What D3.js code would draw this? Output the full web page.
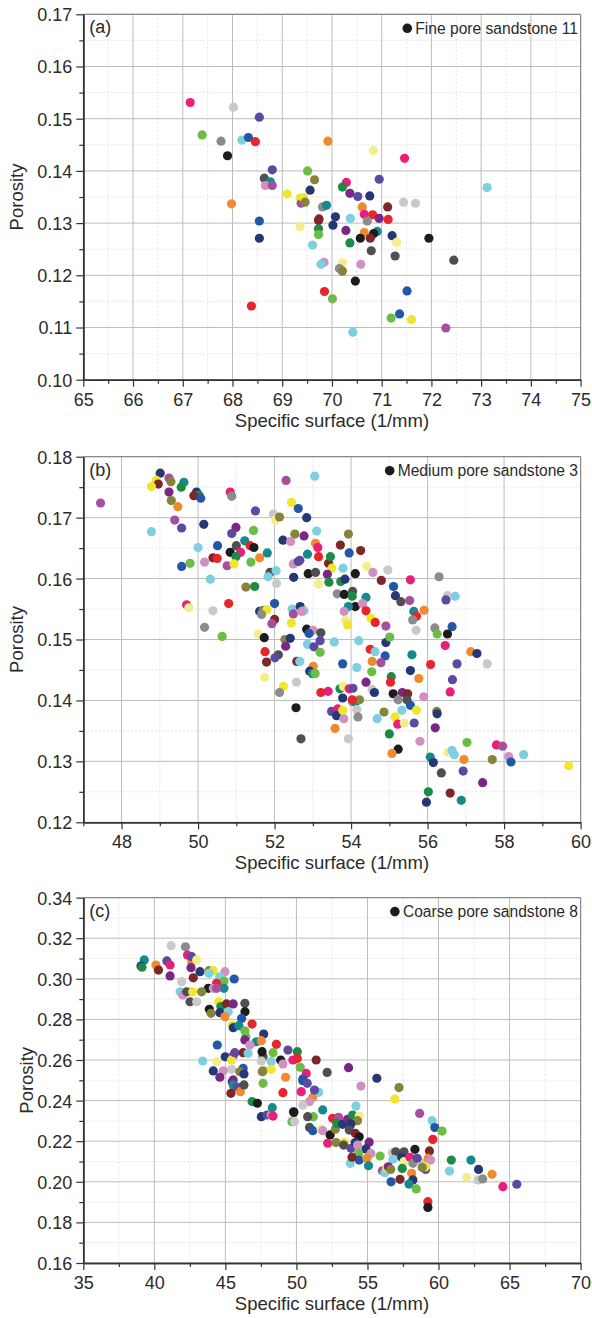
<!DOCTYPE html>
<html><head><meta charset="utf-8">
<script src="https://cdn.jsdelivr.net/npm/d3@7"></script>
<style>
body{margin:0;background:#fff}
text{font-family:"Liberation Sans",Arial,sans-serif;fill:#2b2b2b}
</style>
</head><body>
<svg id="chart" width="592" height="1318"></svg>
<script>
// colour palette used by the points (index referenced in data)
const palette = ["#e8207a","#c9c9c9","#5b4a9f","#6cbd45","#8c8c8c","#7ed0e0","#2356a6","#e6262b","#1c1c1c","#f08a2e","#4f4f4f","#16898c","#d190c2","#a4509f","#f0e62e","#f2ee8c","#85843a","#1e8b45","#253876","#7e2628","#7a2684"];

// Panel (a): Fine pore sandstone 11  [specific surface, porosity, colour]
const fineSandstone = [
[67.15,0.1531,0],[68.02,0.1522,1],[68.54,0.1503,2],[67.39,0.1469,3],[67.77,0.1457,4],[68.19,0.1459,5],[68.32,0.1464,6],[68.46,0.1456,7],[67.90,0.1429,8],[68.80,0.1402,2],[68.64,0.1386,10],[68.76,0.1379,11],[68.66,0.1372,12],[68.80,0.1372,13],[69.10,0.1356,14],[67.98,0.1337,9],[69.36,0.1348,14],[69.38,0.1338,13],
[69.92,0.1457,9],[70.83,0.1439,15],[71.46,0.1424,0],[69.51,0.1400,3],[69.65,0.1383,16],[69.56,0.1363,18],[69.42,0.1349,14],[69.46,0.1340,16],[70.29,0.1378,0],[70.21,0.1369,17],[70.36,0.1357,20],[70.52,0.1351,2],[70.76,0.1352,18],[70.95,0.1384,2],[73.12,0.1368,5],[71.44,0.1340,1],[71.68,0.1338,1],[69.81,0.1331,4],[69.89,0.1334,11],[71.12,0.1331,19],[69.74,0.1308,19],[70.07,0.1312,18],[70.37,0.1309,5],[70.61,0.1331,9],[70.65,0.1317,0],[70.82,0.1316,7],[70.95,0.1309,20],[71.13,0.1307,7],
[68.54,0.1304,6],[68.54,0.1271,18],[69.36,0.1293,15],[69.73,0.1305,19],[69.73,0.1289,17],[69.73,0.1278,3],[70.02,0.1296,18],[70.28,0.1286,20],[70.36,0.1262,17],[70.71,0.1304,4],[70.65,0.1282,9],[70.91,0.1284,11],[70.84,0.1280,8],[70.57,0.1271,8],[70.77,0.1271,19],[71.21,0.1276,18],[71.30,0.1263,15],[71.95,0.1271,8],[69.61,0.1258,5],[70.79,0.1247,10],[71.27,0.1237,10],[72.45,0.1229,10],[69.84,0.1225,12],[69.78,0.1221,5],[70.21,0.1224,15],[70.58,0.1221,12],[70.15,0.1213,4],[70.21,0.1208,16],[70.47,0.1189,8],[69.85,0.1169,7],[70.01,0.1155,3],[71.51,0.1170,6],[68.38,0.1141,7],[71.36,0.1126,6],[71.19,0.1118,3],[71.60,0.1115,14],[72.29,0.1099,13],[70.42,0.1091,5]
];

// Panel (b): Medium pore sandstone 3
const mediumSandstone = [
[47.45,0.1724,13],[49.01,0.1773,18],[49.24,0.1765,13],[48.91,0.1761,14],[48.96,0.1755,19],[48.78,0.1751,14],[49.29,0.1759,16],[49.63,0.1758,11],[49.56,0.1750,17],[49.24,0.1742,20],[49.30,0.1728,16],[49.47,0.1718,9],[49.96,0.1742,18],[50.02,0.1737,17],[49.89,0.1736,19],[50.07,0.1732,6],[50.84,0.1742,0],[50.88,0.1735,4],[52.30,0.1761,13],[51.50,0.1711,2],[52.44,0.1725,14],[52.62,0.1715,6],[48.78,0.1677,5],[49.39,0.1696,13],[49.57,0.1683,2],[50.15,0.1689,18],[51.97,0.1706,1],[52.03,0.1696,15],[52.13,0.1701,16],[52.22,0.1663,18],[52.53,0.1673,16],[52.42,0.1661,12],[50.99,0.1684,20],[50.88,0.1674,2],
[51.45,0.1679,3],[51.22,0.1662,11],[50.00,0.1651,5],[50.51,0.1654,6],[51.00,0.1654,10],[50.84,0.1643,8],[51.36,0.1654,7],[51.46,0.1651,8],[51.11,0.1643,0],[50.99,0.1636,17],[51.61,0.1634,9],[51.81,0.1642,11],[50.39,0.1634,19],[50.50,0.1633,7],[49.57,0.1620,6],[49.79,0.1625,3],[50.17,0.1627,12],[50.76,0.1621,13],[50.94,0.1624,14],[51.38,0.1627,3],[50.32,0.1599,5],[51.88,0.1610,10],[52.04,0.1613,5],[51.83,0.1603,5],[52.05,0.1592,1],[52.50,0.1602,18],[52.49,0.1624,12],[52.62,0.1628,2],[51.25,0.1586,16],[51.48,0.1587,17],[49.70,0.1557,0],[49.76,0.1552,15],[50.39,0.1547,1],[50.80,0.1559,7],[52.00,0.1559,6],[51.61,0.1546,18],[51.70,0.1548,16],[51.80,0.1549,14],[51.66,0.1541,4],[52.46,0.1550,5],[52.49,0.1542,13],[52.00,0.1533,19],[51.93,0.1526,13],[52.44,0.1527,14],[50.17,0.1520,4],
[53.05,0.1768,5],[52.84,0.1700,18],[52.77,0.1670,20],[53.10,0.1678,5],[53.07,0.1658,9],[53.13,0.1651,0],[52.86,0.1640,11],[53.15,0.1636,7],[52.66,0.1630,2],[53.41,0.1625,19],[53.50,0.1617,14],[53.46,0.1636,17],[53.72,0.1655,19],[53.93,0.1673,16],[53.95,0.1642,6],[54.25,0.1646,19],[53.79,0.1617,5],[52.88,0.1608,8],[53.07,0.1610,10],[53.38,0.1607,20],[53.15,0.1591,15],[53.42,0.1594,17],[53.73,0.1595,17],[53.84,0.1599,18],[54.11,0.1608,8],[54.41,0.1620,15],[54.57,0.1610,12],[54.96,0.1614,1],[54.79,0.1597,19],[55.55,0.1598,0],[56.30,0.1603,4],[55.11,0.1587,6],[55.16,0.1572,18],[55.30,0.1562,10],[55.53,0.1564,13],[56.52,0.1572,1],[56.48,0.1565,2],[56.72,0.1571,5],[53.64,0.1575,4],[53.82,0.1574,8],[54.04,0.1579,10],[54.03,0.1571,17],[54.39,0.1569,11],[54.11,0.1554,8],[53.93,0.1554,11],[54.30,0.1559,12],[53.82,0.1546,12],[54.39,0.1547,7],[54.52,0.1535,14],[54.63,0.1528,7],[54.91,0.1522,13],[53.86,0.1532,15],[53.91,0.1524,14],[55.64,0.1546,11],[55.71,0.1538,7],[55.91,0.1548,9],[55.61,0.1532,4],[52.67,0.1554,18],[52.77,0.1547,5],[52.71,0.1546,12],[55.70,0.1515,1],[56.19,0.1519,4],[56.64,0.1521,6],
[50.63,0.1505,3],[51.57,0.1509,15],[51.73,0.1503,8],[52.27,0.1500,16],[52.41,0.1502,18],[51.75,0.1480,7],[52.29,0.1489,20],[52.10,0.1475,10],[52.01,0.1470,2],[51.79,0.1463,19],[52.58,0.1464,19],[52.66,0.1464,5],[51.74,0.1438,15],[52.23,0.1423,14],[52.13,0.1413,4],[52.57,0.1430,1],[52.56,0.1388,8],[52.69,0.1337,10],
[52.84,0.1517,8],[53.01,0.1515,12],[53.21,0.1511,10],[56.25,0.1509,3],[56.52,0.1509,8],[52.90,0.1510,6],[52.86,0.1492,5],[53.03,0.1488,2],[53.19,0.1498,2],[53.19,0.1479,3],[53.56,0.1496,5],[54.20,0.1498,5],[54.50,0.1484,7],[54.63,0.1480,5],[54.91,0.1495,18],[55.01,0.1504,3],[54.89,0.1473,6],[56.46,0.1490,0],[57.13,0.1480,9],[57.29,0.1477,18],[57.56,0.1460,1],[55.59,0.1475,11],[56.08,0.1459,7],[56.77,0.1460,2],[53.01,0.1456,9],[52.92,0.1448,18],[52.99,0.1444,11],[53.06,0.1444,3],[53.78,0.1460,6],[54.15,0.1454,5],[54.55,0.1464,9],[54.78,0.1462,13],[54.54,0.1447,3],[55.55,0.1449,18],[55.77,0.1436,9],[56.65,0.1434,2],[55.05,0.1439,17],[55.03,0.1430,7],[54.39,0.1430,20],[53.21,0.1413,7],[53.40,0.1415,0],[53.71,0.1419,17],[53.80,0.1423,15],[53.95,0.1419,0],[54.05,0.1420,2],[53.78,0.1404,18],[54.55,0.1418,1],[54.61,0.1413,18],[55.10,0.1411,8],[55.34,0.1413,20],[55.48,0.1411,19],[55.46,0.1401,10],[55.23,0.1401,4],[55.55,0.1392,6],[56.59,0.1414,0],[55.90,0.1406,12],[54.04,0.1398,4],[54.11,0.1397,11],[54.22,0.1401,16],[54.03,0.1401,7],[54.15,0.1385,1],[54.18,0.1373,4],[53.49,0.1382,2],[53.65,0.1386,0],[53.62,0.1375,18],[53.81,0.1370,12],[53.78,0.1384,14],[54.68,0.1370,5],[54.86,0.1381,16],[55.15,0.1373,14],[55.22,0.1361,0],[55.39,0.1363,15],[55.65,0.1363,2],[55.33,0.1384,5],[55.71,0.1384,14],[56.24,0.1382,16],[56.25,0.1378,18],[53.58,0.1354,9],[53.93,0.1337,1],[55.00,0.1345,17],[56.20,0.1355,20],[55.80,0.1333,12],[55.23,0.1320,8],[55.07,0.1313,9],[56.07,0.1307,11],[56.15,0.1298,18],[56.53,0.1315,15],[56.64,0.1318,5],[56.70,0.1311,5],[56.95,0.1303,9],[57.03,0.1331,3],[57.80,0.1327,0],[57.96,0.1325,13],[58.12,0.1308,12],[58.18,0.1299,6],[57.69,0.1303,16],[58.51,0.1311,5],[59.69,0.1293,14],[56.36,0.1281,10],[56.93,0.1284,2],[57.44,0.1265,20],[56.02,0.1250,17],[56.59,0.1248,19],[55.97,0.1233,18],[56.88,0.1236,11]
];

// Panel (c): Coarse pore sandstone 8
const coarseSandstone = [
[41.18,0.3163,1],[42.19,0.3158,4],[42.63,0.3084,9],[42.33,0.3117,0],[42.63,0.3109,2],[42.98,0.3093,15],[39.29,0.3093,11],[39.06,0.3063,18],[39.13,0.3057,17],[40.11,0.3068,9],[40.29,0.3043,19],[40.88,0.3088,2],[41.11,0.3068,0],[41.11,0.3014,20],[42.58,0.3055,20],[42.74,0.3005,19],[43.21,0.3035,18],[43.84,0.3040,16],[44.15,0.3040,14],[43.84,0.3027,5],[44.97,0.3035,12],[44.61,0.3010,5],[44.90,0.2989,3],[45.62,0.2999,6],[44.38,0.2978,7],[41.93,0.2986,1],[43.80,0.2953,8],[41.81,0.2936,5],[42.00,0.2920,12],[42.28,0.2936,10],[42.70,0.2936,14],[43.33,0.2936,16],[44.90,0.2953,11],[44.15,0.2953,12],[44.38,0.2953,13],[42.51,0.2887,10],[42.98,0.2887,1],[44.54,0.2887,14],
[44.68,0.2863,17],[45.08,0.2876,19],[45.55,0.2876,20],[46.37,0.2879,10],[43.87,0.2850,8],[43.99,0.2830,16],[44.61,0.2833,18],[45.20,0.2838,5],[46.38,0.2838,8],[44.97,0.2813,9],[46.14,0.2805,6],[46.88,0.2777,7],[45.48,0.2772,14],[45.55,0.2759,18],[45.95,0.2769,11],[46.37,0.2744,3],[46.44,0.2715,3],[47.70,0.2728,18],[46.37,0.2699,20],[47.18,0.2690,11],[47.53,0.2695,9],[46.72,0.2674,12],[48.59,0.2677,7],[44.43,0.2674,6],[44.99,0.2616,18],[45.55,0.2621,0],[45.43,0.2600,14],[45.66,0.2636,2],[46.25,0.2636,19],[46.60,0.2633,5],[43.40,0.2595,5],[44.38,0.2592,15],[47.65,0.2616,10],[47.58,0.2641,8],[48.35,0.2636,3],[47.53,0.2595,1],[48.23,0.2592,5],[48.89,0.2600,8],[49.40,0.2649,2],[49.05,0.2580,12],[49.75,0.2600,0],[50.06,0.2641,17],[50.06,0.2608,7],[47.65,0.2547,16],[48.23,0.2554,14],[46.25,0.2559,6],[45.43,0.2554,1],[44.85,0.2547,12],[44.15,0.2546,18],[44.61,0.2515,20],[46.01,0.2542,16],[45.55,0.2502,20],
[46.31,0.2531,18],[45.48,0.2493,20],[45.55,0.2477,11],[45.83,0.2466,2],[46.06,0.2444,9],[46.31,0.2477,10],[45.39,0.2436,19],[47.60,0.2542,16],[49.24,0.2515,9],[47.65,0.2485,3],[49.05,0.2439,7],[46.88,0.2395,17],[47.25,0.2387,8],[47.53,0.2321,18],[47.93,0.2329,2],[48.23,0.2329,12],[48.30,0.2365,11],[48.35,0.2324,0],[49.82,0.2342,8],[49.68,0.2296,3],[49.87,0.2296,1],
[50.27,0.2564,3],[50.69,0.2534,0],[51.39,0.2600,19],[52.16,0.2539,10],[53.67,0.2562,20],[55.66,0.2510,18],[50.45,0.2506,6],
[54.54,0.2472,12],[57.22,0.2464,16],[56.92,0.2408,14],[50.45,0.2498,6],[50.76,0.2485,2],[50.34,0.2444,0],[51.15,0.2417,9],[51.57,0.2441,5],[51.27,0.2452,2],[50.92,0.2395,12],[50.45,0.2378,1],[49.80,0.2345,8],[54.19,0.2373,5],[51.85,0.2354,11],[51.19,0.2321,3],[50.79,0.2321,10],[50.92,0.2268,10],[51.15,0.2252,6],[51.74,0.2259,15],[51.85,0.2252,12],[52.37,0.2231,8],[52.74,0.2259,16],[52.55,0.2313,7],[52.97,0.2318,13],[52.83,0.2288,17],[53.25,0.2283,18],[53.60,0.2308,20],[53.95,0.2329,17],[54.42,0.2324,15],[54.30,0.2301,16],[53.84,0.2285,18],[53.72,0.2255,10],[54.14,0.2239,19],[54.42,0.2222,8],[52.20,0.2190,0],[52.79,0.2193,16],[53.37,0.2193,14],[53.32,0.2181,10],[53.84,0.2165,2],[54.14,0.2193,18],[55.12,0.2195,20],[54.30,0.2181,12],[54.89,0.2162,18],[55.24,0.2140,12],[54.37,0.2140,3],[54.42,0.2107,6],[54.96,0.2116,9],[55.07,0.2079,11],[53.79,0.2091,5],[53.91,0.2121,19],[55.89,0.2127,3],[56.75,0.2143,1],[56.99,0.2148,10],[57.57,0.2148,10],[58.34,0.2160,8],[59.36,0.2152,19],[56.80,0.2111,5],[57.41,0.2121,18],[57.57,0.2099,15],[57.99,0.2121,0],[58.20,0.2091,4],[58.85,0.2091,1],[58.50,0.2116,2],[59.27,0.2116,9],[59.44,0.2107,12],[59.09,0.2061,2],[59.09,0.2074,14],[58.85,0.2071,16],[57.45,0.2066,17],[58.11,0.2042,9],[56.05,0.2054,13],[56.22,0.2045,5],[56.36,0.2069,14],[56.47,0.2074,20],[56.64,0.2061,16],[58.20,0.2009,18],[57.92,0.1989,11],[57.29,0.2012,19],[56.66,0.2000,6],[58.43,0.1965,3],[59.25,0.1902,7],[59.25,0.1874,8],[58.67,0.2337,13],[59.55,0.2301,5],[59.74,0.2267,6],[60.25,0.2250,3],[59.60,0.2209,7],[60.90,0.2107,17],[60.77,0.2053,5],[62.28,0.2107,11],[62.82,0.2061,18],[61.98,0.2022,15],[62.78,0.2009,1],[63.11,0.2014,4],[63.77,0.2037,9],[64.53,0.1976,0],[65.51,0.1988,2]
];

// tick labels
const aXTicks = [65,66,67,68,69,70,71,72,73,74,75];
const aYTicks = [0.10,0.11,0.12,0.13,0.14,0.15,0.16,0.17];
const bXTicks = [48,50,52,54,56,58,60];
const bYTicks = [0.12,0.13,0.14,0.15,0.16,0.17,0.18];
const cXTicks = [35,40,45,50,55,60,65,70];
const cYTicks = [0.16,0.18,0.20,0.22,0.24,0.26,0.28,0.30,0.32,0.34];

const legendLabels = ["Fine pore sandstone 11","Medium pore sandstone 3","Coarse pore sandstone 8"];
const panelLabels = ["(a)","(b)","(c)"];
const xTitle = "Specific surface (1/mm)";
const yTitle = "Porosity";

const panels = [
  {data:fineSandstone, xd:[65,75], yd:[0.10,0.17], xt:aXTicks, yt:aYTicks, xStep:1, yStep:0.01, top:14.3, bottom:379.7, yTitleX:23},
  {data:mediumSandstone, xd:[47,60], yd:[0.12,0.18], xt:bXTicks, yt:bYTicks, xStep:2, yStep:0.01, top:456.7, bottom:822.3, yTitleX:23},
  {data:coarseSandstone, xd:[35,70], yd:[0.16,0.34], xt:cXTicks, yt:cYTicks, xStep:5, yStep:0.02, top:897.6, bottom:1263, yTitleX:33}
];

const L = 83.3, R = 580.6;
const svg = d3.select("#chart");

panels.forEach((p, i) => {
  const x = d3.scaleLinear().domain(p.xd).range([L, R]);
  const y = d3.scaleLinear().domain(p.yd).range([p.bottom, p.top]);
  const g = svg.append("g");

  // minor positions (midpoints between major ticks)
  const xMinor = d3.range(p.xd[0] + p.xStep/2 * 0, p.xd[1] + 1e-9, p.xStep/2)
      .filter(v => !p.xt.some(t => Math.abs(t - v) < 1e-6));
  const yMinor = d3.range(p.yd[0], p.yd[1] + 1e-9, p.yStep/2)
      .filter(v => !p.yt.some(t => Math.abs(t - v) < 1e-9));

  // minor grid (dashed)
  g.selectAll(".gxm").data(xMinor).join("line")
    .attr("x1", d => x(d)).attr("x2", d => x(d)).attr("y1", p.top).attr("y2", p.bottom)
    .attr("stroke", "#dcdcdc").attr("stroke-width", 0.8).attr("stroke-dasharray", "2,2");
  g.selectAll(".gym").data(yMinor).join("line")
    .attr("x1", L).attr("x2", R).attr("y1", d => y(d)).attr("y2", d => y(d))
    .attr("stroke", "#dcdcdc").attr("stroke-width", 0.8).attr("stroke-dasharray", "2,2");
  // major grid
  g.selectAll(".gx").data(p.xt).join("line")
    .attr("x1", d => x(d)).attr("x2", d => x(d)).attr("y1", p.top).attr("y2", p.bottom)
    .attr("stroke", "#bdbdbd").attr("stroke-width", 1);
  g.selectAll(".gy").data(p.yt).join("line")
    .attr("x1", L).attr("x2", R).attr("y1", d => y(d)).attr("y2", d => y(d))
    .attr("stroke", "#bdbdbd").attr("stroke-width", 1);

  // frame (top/right)
  g.append("line").attr("x1", L).attr("x2", R).attr("y1", p.top).attr("y2", p.top).attr("stroke", "#8a8a8a").attr("stroke-width", 1.2);
  g.append("line").attr("x1", R).attr("x2", R).attr("y1", p.top).attr("y2", p.bottom).attr("stroke", "#8a8a8a").attr("stroke-width", 1.2);

  // points
  g.selectAll("circle").data(p.data).join("circle")
    .attr("cx", d => x(d[0])).attr("cy", d => y(d[1])).attr("r", 4.6)
    .attr("fill", d => palette[d[2]]);

  // axes
  const xAxis = g.append("g").attr("transform", `translate(0,${p.bottom})`)
    .call(d3.axisBottom(x).tickValues(p.xt).tickSize(7).tickSizeOuter(0).tickPadding(6).tickFormat(d3.format("d")));
  const xAxisMinor = g.append("g").attr("transform", `translate(0,${p.bottom})`)
    .call(d3.axisBottom(x).tickValues(xMinor).tickSize(4).tickSizeOuter(0).tickFormat(""));
  const yAxis = g.append("g").attr("transform", `translate(${L},0)`)
    .call(d3.axisLeft(y).tickValues(p.yt).tickSize(7).tickSizeOuter(0).tickPadding(4).tickFormat(d3.format(".2f")));
  const yAxisMinor = g.append("g").attr("transform", `translate(${L},0)`)
    .call(d3.axisLeft(y).tickValues(yMinor).tickSize(4).tickSizeOuter(0).tickFormat(""));
  [xAxis, xAxisMinor, yAxis, yAxisMinor].forEach(a => {
    a.select(".domain").attr("stroke", "#333").attr("stroke-width", 1.5);
    a.selectAll(".tick line").attr("stroke", "#333").attr("stroke-width", 1.2);
    a.selectAll("text").style("font-family", '"Liberation Sans", Arial, sans-serif').style("font-size", "18px").attr("fill", "#2b2b2b");
  });
  xAxis.selectAll("text").attr("dy", null).attr("y", 26).attr("dominant-baseline", "auto");
  yAxis.selectAll("text").attr("x", -11).attr("dy", "0.36em");

  // titles
  g.append("text").attr("x", (L + R) / 2).attr("y", p.bottom + 47)
    .attr("text-anchor", "middle").style("font-size", "18.5px").text(xTitle);
  g.append("text").attr("transform", `translate(${p.yTitleX},${(p.top + p.bottom) / 2}) rotate(-90)`)
    .attr("text-anchor", "middle").style("font-size", "18.5px").text(yTitle);

  // panel label
  g.append("text").attr("x", L + 6).attr("y", p.top + 19).style("font-size", "18px").text(panelLabels[i]);

  // legend
  const lt = g.append("text").attr("x", 578).attr("y", p.top + 19.5).attr("text-anchor", "end")
    .style("font-size", "15.6px").text(legendLabels[i]);
  const w = lt.node().getComputedTextLength();
  g.append("circle").attr("cx", 578 - w - 8).attr("cy", p.top + 14).attr("r", 4.8).attr("fill", "#1c1c1c");
});
</script>
</body></html>
